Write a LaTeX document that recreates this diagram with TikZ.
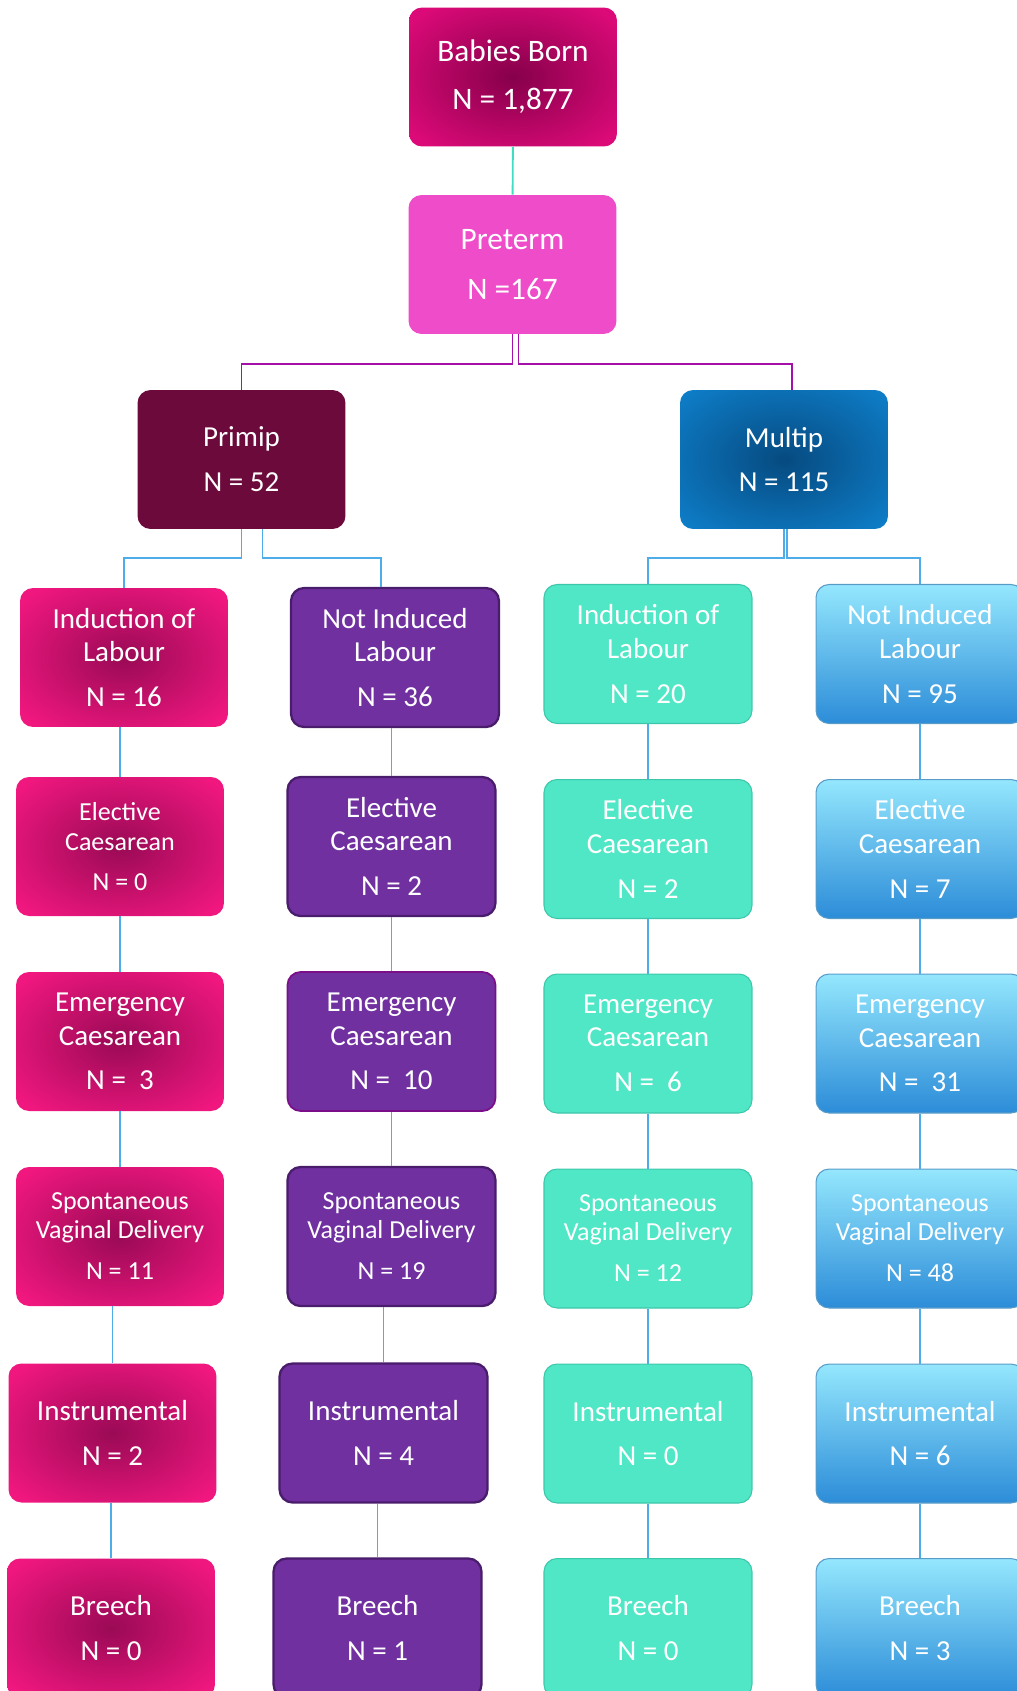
\documentclass[tikz,border=0pt]{standalone}
\usepackage{fontspec}
\setmainfont{Carlito}
\usetikzlibrary{calc}

\definecolor{babiesedge}{HTML}{DC0A78}
\definecolor{babiescore}{HTML}{86004A}
\definecolor{pretermfill}{HTML}{EE4CC8}
\definecolor{primipfill}{HTML}{6B0A3B}
\definecolor{multipedge}{HTML}{0E7FCA}
\definecolor{multipcore}{HTML}{064A80}
\definecolor{pinkedge}{HTML}{F0177F}
\definecolor{pinkcore}{HTML}{9A0A55}
\definecolor{purplefill}{HTML}{7030A0}
\definecolor{purpleedge}{HTML}{4A1C6C}
\definecolor{tealfill}{HTML}{50E7C7}
\definecolor{tealedge}{HTML}{3DC7AA}
\definecolor{skytop}{HTML}{94E7FD}
\definecolor{skymid}{HTML}{70C8F0}
\definecolor{skybottom}{HTML}{2C8CD8}
\definecolor{skyedge}{HTML}{5A9CC8}
\definecolor{linkteal}{HTML}{40DEC0}
\definecolor{linkpurple}{HTML}{A410A8}
\definecolor{linkblue}{HTML}{4EADE8}

\pgfdeclareradialshading{glowbabies}{\pgfpointorigin}{color(0bp)=(babiescore); color(32bp)=(babiesedge); color(50bp)=(babiesedge)}
\pgfdeclareradialshading{glowpink}{\pgfpointorigin}{color(0bp)=(pinkcore); color(32bp)=(pinkedge); color(50bp)=(pinkedge)}
\pgfdeclareradialshading{glowmultip}{\pgfpointorigin}{color(0bp)=(multipcore); color(35bp)=(multipedge); color(50bp)=(multipedge)}

\newcommand{\topfont}{\fontsize{17.8}{21}\selectfont}
\newcommand{\boxfont}{\fontsize{16.5}{19}\selectfont}
\newcommand{\smallboxfont}{\fontsize{14.8}{16}\selectfont}

\begin{document}
\begin{tikzpicture}[
  x=0.02cm, y=-0.02cm,
  box/.style={rectangle,rounded corners=0.26cm,minimum width=4.16cm,minimum height=2.78cm,
    inner sep=0pt,align=center,text=white,font=\boxfont},
  babiesbox/.style={box,shade,shading=glowbabies,font=\topfont},
  pretermbox/.style={box,fill=pretermfill,font=\topfont},
  primipbox/.style={box,fill=primipfill},
  multipbox/.style={box,shade,shading=glowmultip},
  pinkbox/.style={box,shade,shading=glowpink},
  purplebox/.style={box,fill=purplefill,draw=purpleedge,line width=1.3pt},
  tealbox/.style={box,fill=tealfill,draw=tealedge,line width=0.6pt},
  skybox/.style={box,top color=skytop,middle color=skymid,bottom color=skybottom,draw=skyedge,line width=0.6pt},
  tealline/.style={line width=1.1pt,linkteal},
  purpleline/.style={line width=1.1pt,linkpurple},
  blueline/.style={line width=1.1pt,linkblue}
]
  \clip (0,0) rectangle (1017,1691);

  % top of the tree
  \node[babiesbox] (babies) at (513,77) {Babies Born\\[6.4pt]N = 1,877};
  \node[pretermbox] (preterm) at (512.5,264.5) {Preterm\\[7pt]N =167};
  \node[primipbox] (primip) at (241.5,459.5) {Primip\\[6.5pt]N = 52};
  \node[multipbox] (multip) at (784,459.5) {Multip\\[6.5pt]N = 115};

  % primip, induced
  \node[pinkbox] (ind1) at (124,657.5) {Induction of\\Labour\\[6.5pt]N = 16};
  \node[pinkbox,font=\smallboxfont] (ele1) at (120,846.5) {Elective\\[1pt]Caesarean\\[6.5pt]N = 0};
  \node[pinkbox] (emg1) at (120,1041.5) {Emergency\\Caesarean\\[6.5pt]N = \ 3};
  \node[pinkbox,font=\smallboxfont] (svd1) at (120,1236.5) {Spontaneous\\Vaginal Delivery\\[7.8pt]N = 11};
  \node[pinkbox] (ins1) at (112.5,1433) {Instrumental\\[6.5pt]N = 2};
  \node[pinkbox] (bre1) at (111,1628) {Breech\\[6.5pt]N = 0};

  % primip, not induced
  \node[purplebox] (ind2) at (395,657.5) {Not Induced\\Labour\\[6.5pt]N = 36};
  \node[purplebox] (ele2) at (391.5,846.5) {Elective\\Caesarean\\[6.5pt]N = 2};
  \node[purplebox,draw=violet!70!purplefill,line width=1pt] (emg2) at (391.5,1041.5) {Emergency\\Caesarean\\[6.5pt]N = \ 10};
  \node[purplebox,font=\smallboxfont] (svd2) at (391.5,1236.5) {Spontaneous\\Vaginal Delivery\\[7.8pt]N = 19};
  \node[purplebox] (ins2) at (383.5,1433) {Instrumental\\[6.5pt]N = 4};
  \node[purplebox] (bre2) at (377.5,1628) {Breech\\[6.5pt]N = 1};

  % multip, induced
  \node[tealbox] (ind3) at (648,654) {Induction of\\Labour\\[6.5pt]N = 20};
  \node[tealbox] (ele3) at (648,849) {Elective\\Caesarean\\[6.5pt]N = 2};
  \node[tealbox] (emg3) at (648,1043.5) {Emergency\\Caesarean\\[6.5pt]N = \ 6};
  \node[tealbox,font=\smallboxfont] (svd3) at (648,1238.5) {Spontaneous\\Vaginal Delivery\\[7.8pt]N = 12};
  \node[tealbox] (ins3) at (648,1433.5) {Instrumental\\[6.5pt]N = 0};
  \node[tealbox] (bre3) at (648,1628) {Breech\\[6.5pt]N = 0};

  % multip, not induced
  \node[skybox] (ind4) at (920,654) {Not Induced\\Labour\\[6.5pt]N = 95};
  \node[skybox] (ele4) at (920,849) {Elective\\Caesarean\\[6.5pt]N = 7};
  \node[skybox] (emg4) at (920,1043.5) {Emergency\\Caesarean\\[6.5pt]N = \ 31};
  \node[skybox,font=\smallboxfont] (svd4) at (920,1238.5) {Spontaneous\\Vaginal Delivery\\[7.8pt]N = 48};
  \node[skybox] (ins4) at (920,1433.5) {Instrumental\\[6.5pt]N = 6};
  \node[skybox] (bre4) at (920,1628) {Breech\\[6.5pt]N = 3};

  % connectors
  \draw[tealline] (babies) -- (preterm);
  \draw[purpleline] (preterm.south) -- ++(0,30) -| (primip.north);
  \draw[purpleline] ($(preterm.south)+(6,0)$) -- ++(0,30) -| ($(multip.north)+(8,0)$);
  \draw[blueline] (primip.south) -- ++(0,29) -| (ind1.north);
  \draw[blueline] ($(primip.south)+(21,0)$) -- ++(0,29) -| ($(ind2.north)+(-14,0)$);
  \draw[blueline] (multip.south) -- ++(0,29) -| (ind3.north);
  \draw[blueline] ($(multip.south)+(3,0)$) -- ++(0,29) -| (ind4.north);

  \draw[blueline] (ind1.south -| ele1.north) -- (ele1.north)
    (ele1.south -| emg1.north) -- (emg1.north)
    (emg1.south -| svd1.north) -- (svd1.north)
    (svd1.south -| ins1.north) -- (ins1.north)
    (ins1.south -| bre1.north) -- (bre1.north);
  \draw[blueline] (ind2.south -| ele2.north) -- (ele2.north)
    (ele2.south -| emg2.north) -- (emg2.north)
    (emg2.south -| svd2.north) -- (svd2.north)
    (svd2.south -| ins2.north) -- (ins2.north)
    (ins2.south -| bre2.north) -- (bre2.north);
  \draw[blueline] (ind3.south) -- (ele3.north)
    (ele3.south) -- (emg3.north)
    (emg3.south) -- (svd3.north)
    (svd3.south) -- (ins3.north)
    (ins3.south) -- (bre3.north);
  \draw[blueline] (ind4.south) -- (ele4.north)
    (ele4.south) -- (emg4.north)
    (emg4.south) -- (svd4.north)
    (svd4.south) -- (ins4.north)
    (ins4.south) -- (bre4.north);
\end{tikzpicture}
\end{document}
